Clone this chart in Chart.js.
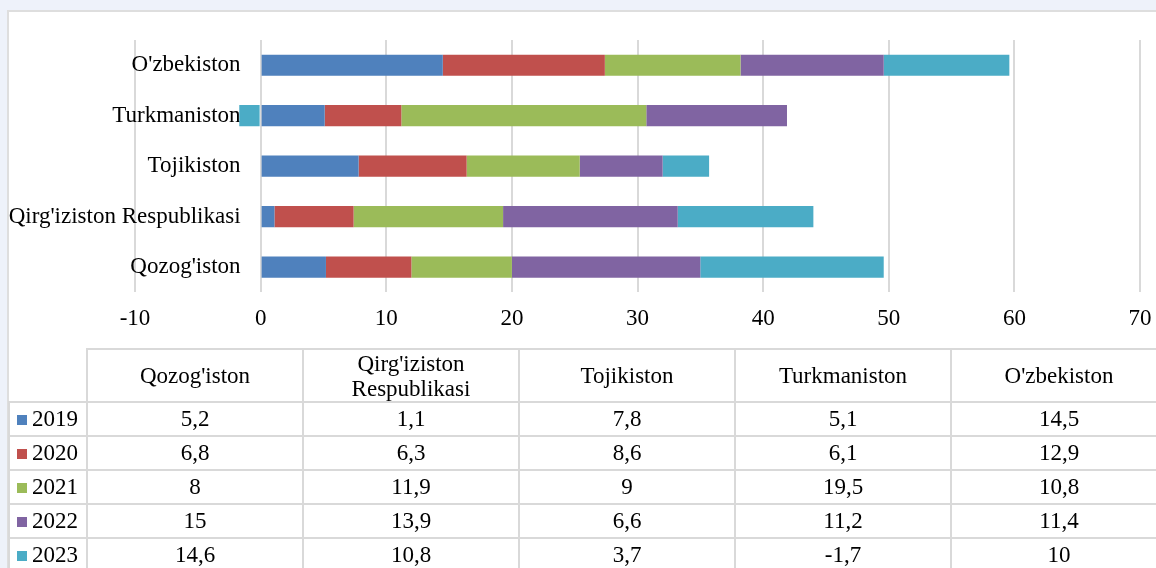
<!DOCTYPE html>
<html>
<head>
<meta charset="utf-8">
<script src="https://cdn.jsdelivr.net/npm/chart.js@4.4.1/dist/chart.umd.min.js"></script>
<style>
  html, body { margin:0; padding:0; }
  body { width:1156px; height:568px; overflow:hidden; background:#eef2fa; position:relative;
         font-family:'Liberation Serif','Times New Roman',serif; }
  #panel { position:absolute; left:7px; top:10px; width:1170px; height:580px; background:#fff;
           border-top:2px solid #dedede; border-left:2px solid #dedede; }
  #wrap { position:absolute; left:0; top:0; width:1156px; height:350px; }
  #tbl { position:absolute; left:8px; top:348px; border-collapse:collapse; table-layout:fixed;
         font-size:23px; color:#000; width:1158px; }
  #tbl td, #tbl th { border:2px solid #d9d9d9; text-align:center; vertical-align:middle; padding:0;
         font-weight:normal; white-space:nowrap; overflow:hidden; }
  #tbl thead tr { height:53px; }
  #tbl tbody tr { height:34px; }
  #tbl th.corner { border-top:none; border-left:none; }
  #tbl th.hdr { line-height:25px; white-space:normal; }
  #tbl td.key { text-align:left; padding-left:7px; }
  .sw { display:inline-block; width:10px; height:10px; margin-right:5px; vertical-align:1px; }
</style>
</head>
<body>
<div id="panel"></div>
<div id="wrap"><canvas id="c"></canvas></div>
<table id="tbl">
  <colgroup><col style="width:78px"><col style="width:216px"><col style="width:216px"><col style="width:216px"><col style="width:216px"><col style="width:216px"></colgroup>
  <thead><tr id="hrow"><th class="corner"></th></tr></thead>
  <tbody id="tbody"></tbody>
</table>
<script>
// ---- data ----
const categories = ["Qozog'iston", "Qirg'iziston Respublikasi", "Tojikiston", "Turkmaniston", "O'zbekiston"];
const tableHeaders = ["Qozog'iston", "Qirg'iziston<br>Respublikasi", "Tojikiston", "Turkmaniston", "O'zbekiston"];
const seriesNames = ["2019", "2020", "2021", "2022", "2023"];
const v2019 = [5.2, 1.1, 7.8, 5.1, 14.5];
const v2020 = [6.8, 6.3, 8.6, 6.1, 12.9];
const v2021 = [8, 11.9, 9, 19.5, 10.8];
const v2022 = [15, 13.9, 6.6, 11.2, 11.4];
const v2023 = [14.6, 10.8, 3.7, -1.7, 10];
const xTicks = [-10, 0, 10, 20, 30, 40, 50, 60, 70];
const colors = ["#4f81bd", "#c0504d", "#9bbb59", "#8064a2", "#4bacc6"];

const seriesValues = [v2019, v2020, v2021, v2022, v2023];
const FONT = "'Liberation Serif', 'Times New Roman', serif";

// ---- chart ----
Chart.defaults.font.family = FONT;
Chart.defaults.color = '#000';

new Chart(document.getElementById('c'), {
  type: 'bar',
  data: {
    labels: categories,
    datasets: seriesNames.map((n, i) => ({
      label: n,
      data: seriesValues[i],
      backgroundColor: colors[i],
      borderWidth: 0,
      barPercentage: 0.42,
      categoryPercentage: 1.0
    }))
  },
  options: {
    indexAxis: 'y',
    responsive: true,
    maintainAspectRatio: false,
    animation: false,
    layout: { padding: { left: 135, right: 16, top: 40, bottom: 17 } },
    plugins: { legend: { display: false }, tooltip: { enabled: false } },
    scales: {
      x: {
        stacked: true,
        min: xTicks[0],
        max: xTicks[xTicks.length - 1],
        afterBuildTicks: (s) => { s.ticks = xTicks.map(v => ({ value: v })); },
        ticks: { font: { size: 23 }, color: '#000', padding: 0, maxRotation: 0 },
        grid: { color: '#d9d9d9', lineWidth: 2, drawTicks: true, tickLength: 13, tickColor: 'rgba(0,0,0,0)' },
        border: { display: false }
      },
      y: {
        stacked: true,
        reverse: true,
        // category labels sit just left of the value axis, as in the original
        position: { x: -1.6 },
        ticks: { font: { size: 23 }, color: '#000', padding: 0 },
        grid: { display: false, drawTicks: false },
        border: { display: false }
      }
    }
  }
});

// ---- table ----
const hrow = document.getElementById('hrow');
tableHeaders.forEach(h => {
  const th = document.createElement('th');
  th.className = 'hdr';
  th.innerHTML = h;
  hrow.appendChild(th);
});
const tbody = document.getElementById('tbody');
seriesNames.forEach((n, i) => {
  const tr = document.createElement('tr');
  const k = document.createElement('td');
  k.className = 'key';
  k.innerHTML = '<span class="sw" style="background:' + colors[i] + '"></span>' + n;
  tr.appendChild(k);
  seriesValues[i].forEach(v => {
    const td = document.createElement('td');
    td.textContent = String(v).replace('.', ',');
    tr.appendChild(td);
  });
  tbody.appendChild(tr);
});
</script>
</body>
</html>
